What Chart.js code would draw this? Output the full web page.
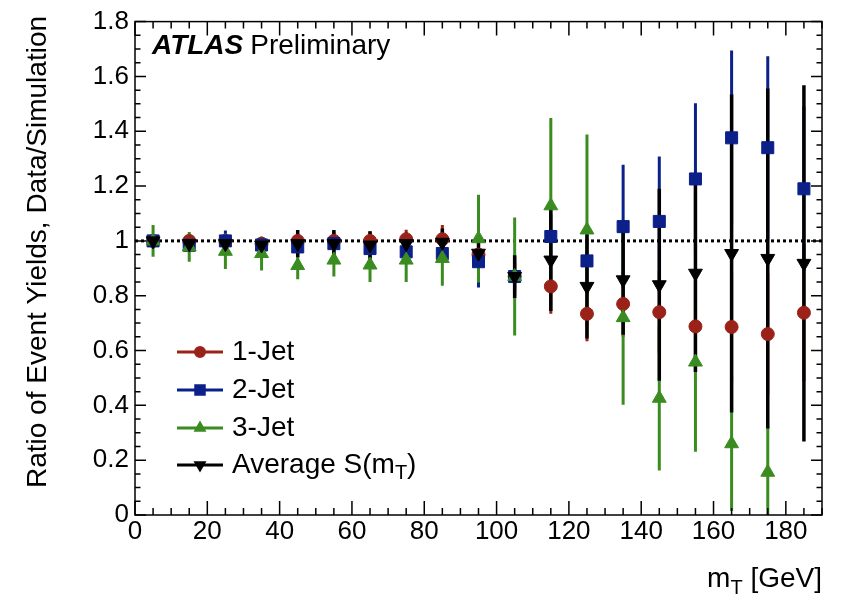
<!DOCTYPE html>
<html>
<head>
<meta charset="utf-8">
<script src="https://cdn.jsdelivr.net/npm/chart.js@4.4.0/dist/chart.umd.min.js"></script>
<style>
  html, body { margin: 0; background: #fff; }
</style>
</head>
<body>
<canvas id="ratioChart" width="843" height="600"></canvas>
<script>
// m_T bin centres [GeV]
const mtBins = [5, 15, 25, 35, 45, 55, 65, 75, 85, 95, 105, 115, 125, 135, 145, 155, 165, 175, 185];

// data / simulation ratios and (symmetric) uncertainties
const jet1Ratio = [1.0, 1.0, 1.0, 0.99, 1.0, 1.0, 1.0, 1.006, 1.006, 0.95, 0.87, 0.834, 0.734, 0.77, 0.74, 0.688, 0.686, 0.66, 0.738];
const jet1Err   = [0.02, 0.02, 0.02, 0.02, 0.026, 0.034, 0.034, 0.035, 0.052, 0.04, 0.07, 0.10, 0.10, 0.12, 0.15, 0.17, 0.20, 0.22, 0.25];

const jet2Ratio = [1.0, 0.984, 1.0, 0.985, 0.978, 0.99, 0.972, 0.96, 0.954, 0.924, 0.87, 1.016, 0.927, 1.052, 1.071, 1.226, 1.376, 1.34, 1.19];
const jet2Err   = [0.02, 0.02, 0.038, 0.02, 0.025, 0.03, 0.03, 0.03, 0.035, 0.094, 0.05, 0.08, 0.08, 0.226, 0.237, 0.276, 0.319, 0.334, 0.30];

const jet3Ratio = [1.0, 0.978, 0.962, 0.954, 0.91, 0.93, 0.912, 0.93, 0.936, 1.008, 0.87, 1.128, 1.04, 0.72, 0.426, 0.558, 0.26, 0.156, null];
const jet3Err   = [0.058, 0.054, 0.065, 0.062, 0.05, 0.06, 0.062, 0.08, 0.10, 0.16, 0.215, 0.32, 0.348, 0.318, 0.264, 0.327, 0.245, 0.17, null];

const avgRatio = [1.0, 0.99, 0.99, 0.985, 0.99, 0.99, 0.985, 0.99, 0.995, 0.955, 0.87, 0.93, 0.834, 0.858, 0.84, 0.882, 0.954, 0.936, 0.918];
const avgErr   = [0.02, 0.02, 0.02, 0.02, 0.05, 0.05, 0.05, 0.04, 0.05, 0.05, 0.078, 0.186, 0.19, 0.20, 0.35, 0.36, 0.58, 0.62, 0.65];

const xTickLabels = [0, 20, 40, 60, 80, 100, 120, 140, 160, 180];
const yTickLabels = [0, 0.2, 0.4, 0.6, 0.8, 1, 1.2, 1.4, 1.6, 1.8];

const FONT = '"Liberation Sans", Arial, Helvetica, sans-serif';

const series = [
    { label: '1-Jet', vals: jet1Ratio, errs: jet1Err, color: '#9b2218', style: 'circle', radius: 6.5, legR: 4.5, rot: 0 },
    { label: '2-Jet', vals: jet2Ratio, errs: jet2Err, color: '#0b2089', style: 'rect', radius: 8.5, legR: 6, rot: 0 },
    { label: '3-Jet', vals: jet3Ratio, errs: jet3Err, color: '#3a8c20', style: 'triangle', radius: 8, legR: 4.5, rot: 0 },
    { label: 'Average S(m', sub: 'T', tail: ')', vals: avgRatio, errs: avgErr, color: '#000000', style: 'triangle', radius: 8, legR: 4.5, rot: 180 }
];

function toPoints(vals) {
    return mtBins.map((m, i) => ({ x: m, y: vals[i] })).filter(p => p.y !== null);
}

const rootStyle = {
    id: 'rootStyle',
    beforeDatasetsDraw(chart) {
        const { ctx, chartArea: a, scales: { x, y } } = chart;
        ctx.save();
        ctx.beginPath();
        ctx.rect(a.left, a.top, a.right - a.left, a.bottom - a.top);
        ctx.clip();
        // dotted line at unity
        const y1 = y.getPixelForValue(1);
        ctx.strokeStyle = '#000';
        ctx.lineWidth = 3;
        ctx.setLineDash([3, 3]);
        ctx.beginPath(); ctx.moveTo(a.left, y1); ctx.lineTo(a.right, y1); ctx.stroke();
        ctx.setLineDash([]);
        // error bars
        series.forEach(s => {
            ctx.strokeStyle = s.color;
            ctx.lineWidth = s.color === '#000000' ? 3.5 : 3;
            s.vals.forEach((v, i) => {
                if (v === null) return;
                const px = x.getPixelForValue(mtBins[i]);
                ctx.beginPath();
                ctx.moveTo(px, y.getPixelForValue(v - s.errs[i]));
                ctx.lineTo(px, y.getPixelForValue(v + s.errs[i]));
                ctx.stroke();
            });
        });
        ctx.restore();
    },
    afterDraw(chart) {
        const { ctx, chartArea: a, scales: { x, y } } = chart;
        ctx.save();
        // frame + inward ticks
        ctx.strokeStyle = '#000';
        ctx.lineWidth = 1.5;
        ctx.strokeRect(a.left, a.top, a.right - a.left, a.bottom - a.top);
        ctx.beginPath();
        for (let v = 0; v <= 190; v += 5) {
            const px = x.getPixelForValue(v);
            const len = v % 20 === 0 ? 14 : 7;
            ctx.moveTo(px, a.bottom); ctx.lineTo(px, a.bottom - len);
            ctx.moveTo(px, a.top); ctx.lineTo(px, a.top + len);
        }
        for (let i = 0; i <= 36; i++) {
            const py = y.getPixelForValue(i * 0.05);
            const len = i % 4 === 0 ? 11 : 5.5;
            ctx.moveTo(a.left, py); ctx.lineTo(a.left + len, py);
            ctx.moveTo(a.right, py); ctx.lineTo(a.right - len, py);
        }
        ctx.stroke();

        ctx.fillStyle = '#000';
        ctx.textBaseline = 'alphabetic';
        // ATLAS label
        ctx.font = 'italic bold 28px ' + FONT;
        ctx.fillText('ATLAS', 152, 54);
        const wA = ctx.measureText('ATLAS').width;
        ctx.font = '28px ' + FONT;
        ctx.fillText('Preliminary', 152 + wA + 7, 54);

        // x title
        ctx.font = '28px ' + FONT;
        const wM = ctx.measureText('m').width;
        const wRest = ctx.measureText(' [GeV]').width;
        ctx.font = '20px ' + FONT;
        const wT = ctx.measureText('T').width;
        const x0 = a.right - (wM + wT + wRest);
        ctx.font = '28px ' + FONT;
        ctx.fillText('m', x0, 587);
        ctx.fillText(' [GeV]', x0 + wM + wT, 587);
        ctx.font = '20px ' + FONT;
        ctx.fillText('T', x0 + wM, 594);

        // y title
        ctx.save();
        ctx.translate(38, 252);
        ctx.rotate(-Math.PI / 2);
        ctx.font = '28px ' + FONT;
        ctx.textAlign = 'center';
        ctx.textBaseline = 'middle';
        ctx.fillText('Ratio of Event Yields, Data/Simulation', 0, 0);
        ctx.restore();

        // legend
        const rows = [352, 390, 428, 465];
        series.forEach((s, i) => {
            const ry = rows[i];
            ctx.strokeStyle = s.color;
            ctx.fillStyle = s.color;
            ctx.lineWidth = 3;
            ctx.beginPath(); ctx.moveTo(177, ry); ctx.lineTo(223, ry); ctx.stroke();
            Chart.helpers.drawPoint(ctx, { pointStyle: s.style, radius: s.legR, rotation: s.rot, borderWidth: 1 }, 200, ry);
            ctx.fillStyle = '#000';
            ctx.font = '28px ' + FONT;
            ctx.textBaseline = 'middle';
            ctx.fillText(s.label, 232, ry);
            if (s.sub) {
                const w = ctx.measureText(s.label).width;
                ctx.font = '20px ' + FONT;
                ctx.fillText(s.sub, 232 + w, ry + 8);
                const ws = ctx.measureText(s.sub).width;
                ctx.font = '28px ' + FONT;
                ctx.fillText(s.tail, 232 + w + ws, ry);
            }
        });
        ctx.restore();
    }
};

new Chart(document.getElementById('ratioChart'), {
    type: 'scatter',
    data: {
        datasets: series.map((s, i) => ({
            label: s.label,
            data: toPoints(s.vals),
            pointStyle: s.style,
            pointRadius: s.radius,
            pointHoverRadius: s.radius,
            pointRotation: s.rot,
            backgroundColor: s.color,
            borderColor: s.color,
            borderWidth: 1,
            order: series.length - 1 - i
        }))
    },
    options: {
        responsive: false,
        animation: false,
        devicePixelRatio: 1,
        layout: { padding: { left: 0, right: 21, top: 15, bottom: 0 } },
        plugins: { legend: { display: false }, tooltip: { enabled: false } },
        scales: {
            x: {
                type: 'linear', min: 0, max: 190,
                grid: { display: false, drawTicks: false },
                border: { display: false },
                afterBuildTicks: s => { s.ticks = xTickLabels.map(v => ({ value: v })); },
                afterFit: s => { s.height = 85; },
                ticks: { color: '#000', font: { family: FONT, size: 26 }, padding: 1, maxRotation: 0, autoSkip: false }
            },
            y: {
                min: 0, max: 1.8,
                grid: { display: false, drawTicks: false },
                border: { display: false },
                afterBuildTicks: s => { s.ticks = yTickLabels.map(v => ({ value: v })); },
                afterFit: s => { s.width = 135; },
                ticks: { color: '#000', font: { family: FONT, size: 26 }, padding: 6, autoSkip: false,
                         callback: v => String(+v.toFixed(1)) }
            }
        }
    },
    plugins: [rootStyle]
});
</script>
</body>
</html>
